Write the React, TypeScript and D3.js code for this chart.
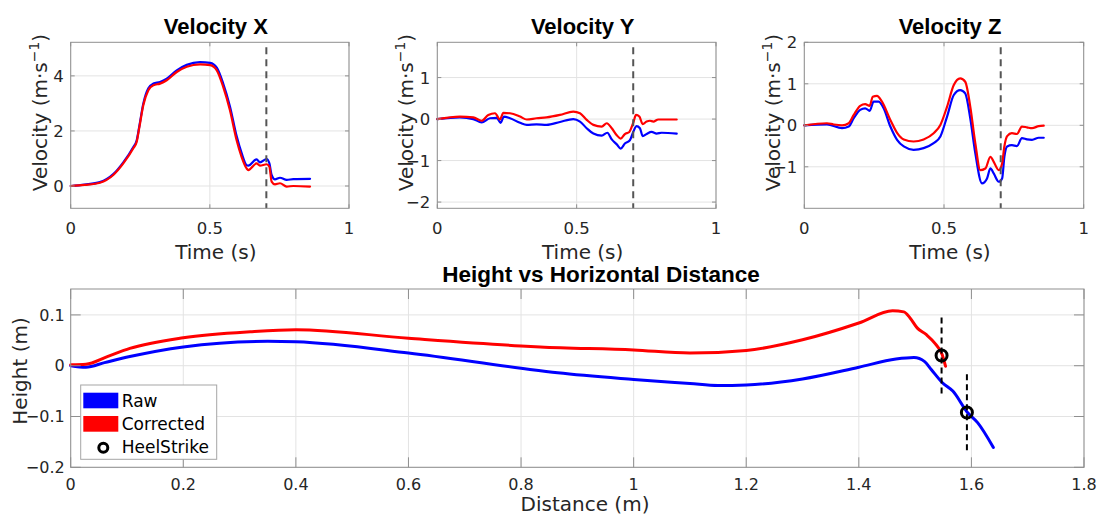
import React from 'react';
import * as d3 from 'd3';

// ---------- DATA ----------
const velXTimeRaw = [0, 0.05, 0.105, 0.153, 0.189, 0.225, 0.237, 0.247, 0.261, 0.279, 0.297, 0.321, 0.345, 0.381, 0.417, 0.465, 0.501, 0.525, 0.548, 0.572, 0.596, 0.614, 0.632, 0.638, 0.668, 0.68, 0.704, 0.714, 0.722, 0.734, 0.752, 0.776, 0.8, 0.86];
const velXRaw = [0, 0.05, 0.14, 0.43, 0.86, 1.42, 1.65, 2.2, 3.0, 3.55, 3.72, 3.78, 3.9, 4.2, 4.4, 4.5, 4.47, 4.3, 3.72, 2.9, 1.82, 1.2, 0.76, 0.74, 0.97, 0.86, 0.98, 0.82, 0.4, 0.24, 0.3, 0.22, 0.25, 0.26];
const velXTimeCorr = [0, 0.05, 0.105, 0.153, 0.189, 0.225, 0.237, 0.247, 0.261, 0.279, 0.297, 0.321, 0.345, 0.381, 0.417, 0.465, 0.501, 0.525, 0.548, 0.572, 0.596, 0.614, 0.632, 0.638, 0.668, 0.68, 0.704, 0.714, 0.722, 0.734, 0.752, 0.776, 0.8, 0.86];
const velXCorr = [0, 0.04, 0.12, 0.4, 0.82, 1.37, 1.6, 2.15, 2.94, 3.48, 3.66, 3.72, 3.84, 4.14, 4.33, 4.42, 4.39, 4.2, 3.6, 2.76, 1.67, 1.06, 0.64, 0.58, 0.82, 0.74, 0.79, 0.7, 0.16, 0.06, 0.1, -0.02, 0.0, -0.02];

const velYTimeRaw = [0, 0.081, 0.129, 0.159, 0.189, 0.213, 0.227, 0.239, 0.261, 0.297, 0.321, 0.356, 0.392, 0.44, 0.488, 0.512, 0.536, 0.56, 0.59, 0.61, 0.626, 0.644, 0.658, 0.673, 0.691, 0.703, 0.715, 0.727, 0.737, 0.751, 0.769, 0.787, 0.805, 0.859];
const velYRaw = [0, 0.04, 0, -0.08, 0.02, 0.03, -0.09, 0.06, 0.02, -0.09, -0.14, -0.13, -0.14, -0.07, 0, -0.06, -0.22, -0.35, -0.4, -0.33, -0.49, -0.61, -0.71, -0.59, -0.51, -0.31, -0.17, -0.22, -0.41, -0.36, -0.31, -0.35, -0.33, -0.35];
const velYTimeCorr = [0, 0.081, 0.129, 0.159, 0.183, 0.207, 0.225, 0.237, 0.261, 0.297, 0.321, 0.356, 0.392, 0.44, 0.488, 0.512, 0.536, 0.56, 0.59, 0.608, 0.626, 0.644, 0.658, 0.673, 0.689, 0.703, 0.713, 0.725, 0.737, 0.751, 0.763, 0.775, 0.793, 0.859];
const velYCorr = [0, 0.06, 0.04, -0.04, 0.1, 0.14, -0.01, 0.15, 0.14, 0.06, -0.01, 0.02, 0.04, 0.1, 0.18, 0.14, -0.02, -0.14, -0.18, -0.1, -0.22, -0.39, -0.47, -0.36, -0.31, -0.09, 0.1, 0.06, -0.12, -0.06, -0.04, -0.06, -0.01, -0.01];

const velZTimeRaw = [0, 0.081, 0.135, 0.159, 0.177, 0.2, 0.218, 0.234, 0.248, 0.266, 0.284, 0.308, 0.332, 0.356, 0.391, 0.427, 0.463, 0.487, 0.511, 0.535, 0.558, 0.576, 0.594, 0.612, 0.636, 0.654, 0.666, 0.678, 0.696, 0.708, 0.716, 0.726, 0.743, 0.761, 0.779, 0.797, 0.815, 0.839, 0.857];
const velZRaw = [0, 0.02, -0.07, -0.03, 0.17, 0.37, 0.41, 0.35, 0.57, 0.57, 0.41, -0.03, -0.35, -0.51, -0.59, -0.55, -0.43, -0.27, 0.21, 0.73, 0.85, 0.77, 0.17, -0.67, -1.4, -1.28, -1.04, -1.16, -1.36, -1.28, -0.76, -0.51, -0.48, -0.5, -0.31, -0.34, -0.35, -0.3, -0.3];
const velZTimeCorr = [0, 0.081, 0.105, 0.135, 0.159, 0.177, 0.2, 0.218, 0.234, 0.245, 0.26, 0.278, 0.308, 0.332, 0.356, 0.391, 0.427, 0.463, 0.487, 0.511, 0.535, 0.558, 0.576, 0.594, 0.612, 0.63, 0.648, 0.666, 0.678, 0.696, 0.708, 0.716, 0.726, 0.743, 0.761, 0.779, 0.797, 0.815, 0.839, 0.857];
const velZCorr = [0, 0.05, 0.02, 0, 0.05, 0.25, 0.47, 0.51, 0.47, 0.69, 0.71, 0.57, 0.13, -0.18, -0.34, -0.39, -0.34, -0.19, 0.01, 0.45, 0.97, 1.13, 1.05, 0.45, -0.43, -1.08, -1.04, -0.76, -0.88, -1.08, -0.92, -0.51, -0.26, -0.19, -0.21, -0.03, -0.05, -0.07, -0.02, -0.01];

const heelStrikeTime = 0.703;

const distRaw = [0, 0.027, 0.06, 0.105, 0.2, 0.35, 0.4, 0.6, 0.8, 0.865, 1.0, 1.1, 1.15, 1.2, 1.3, 1.4, 1.466, 1.498, 1.517, 1.529, 1.548, 1.567, 1.593, 1.611, 1.639];
const heightRaw = [0, -0.003, 0.006, 0.018, 0.037, 0.048, 0.047, 0.025, -0.005, -0.014, -0.027, -0.035, -0.039, -0.038, -0.026, -0.003, 0.013, 0.016, 0.008, -0.008, -0.033, -0.05, -0.092, -0.112, -0.161];
const distCorr = [0, 0.027, 0.065, 0.105, 0.2, 0.319, 0.4, 0.6, 0.8, 0.834, 1.0, 1.1, 1.2, 1.3, 1.4, 1.46, 1.48, 1.491, 1.504, 1.52, 1.536, 1.548, 1.554];
const heightCorr = [0.002, 0.003, 0.018, 0.034, 0.055, 0.067, 0.071, 0.054, 0.039, 0.037, 0.031, 0.025, 0.03, 0.051, 0.084, 0.108, 0.106, 0.094, 0.074, 0.061, 0.043, 0.022, -0.001];

const heelStrikeDist = [1.592, 1.547];
const heelStrikeHeight = [-0.092, 0.02];

const topTitles = ['Velocity X', 'Velocity Y', 'Velocity Z'];
const timeTicks = [0, 0.5, 1];
const velXTicks = [0, 2, 4];
const velYTicks = [-2, -1, 0, 1];
const velZTicks = [-1, 0, 1, 2];
const distTicks = [0, 0.2, 0.4, 0.6, 0.8, 1, 1.2, 1.4, 1.6, 1.8];
const heightTicks = [-0.2, -0.1, 0, 0.1];
const legendLabels = ['Raw', 'Corrected', 'HeelStrike'];

// ---------- STYLE ----------
const FONT = "'DejaVu Sans', Verdana, sans-serif";
const TFONT = "'Liberation Sans', Arial, sans-serif";
const TXT = '#262626';
const BOX = '#8f8f8f';
const GRID = '#e3e3e3';
const BLUE = '#0000ff';
const RED = '#ff0000';

const fmt = (v: number) => {
  if (Math.abs(v) < 1e-9) return '0';
  const s = String(+v.toFixed(2));
  return s.replace('-', '\u2212');
};

type Series = { xs: number[]; ys: number[]; color: string };

function Axes(props: {
  left: number; right: number; top: number; bottom: number;
  xDomain: [number, number]; yDomain: [number, number];
  xTicks: number[]; yTicks: number[]; tickLen: number;
  series: Series[]; lineWidth: number; tickFont: number;
  xTickBase: number; yTickGap: number;
  children?: (x: d3.ScaleLinear<number, number>, y: d3.ScaleLinear<number, number>) => React.ReactNode;
}) {
  const { left, right, top, bottom, xDomain, yDomain, xTicks, yTicks, tickLen, series, lineWidth } = props;
  const x = d3.scaleLinear().domain(xDomain).range([left, right]);
  const y = d3.scaleLinear().domain(yDomain).range([bottom, top]);
  const line = d3.line<[number, number]>().x(d => x(d[0])).y(d => y(d[1])).curve(d3.curveMonotoneX);
  return (
    <g>
      <rect x={left} y={top} width={right - left} height={bottom - top} fill="#fff" />
      {xTicks.map((t, i) => (
        <line key={'gx' + i} x1={x(t)} x2={x(t)} y1={top} y2={bottom} stroke={GRID} strokeWidth={1} />
      ))}
      {yTicks.map((t, i) => (
        <line key={'gy' + i} x1={left} x2={right} y1={y(t)} y2={y(t)} stroke={GRID} strokeWidth={1} />
      ))}
      {series.map((s, i) => (
        <path key={'s' + i} d={line(s.xs.map((v, j) => [v, s.ys[j]] as [number, number])) || ''}
          fill="none" stroke={s.color} strokeWidth={lineWidth} strokeLinejoin="round" strokeLinecap="round" />
      ))}
      {props.children ? props.children(x, y) : null}
      <rect x={left} y={top} width={right - left} height={bottom - top} fill="none" stroke={BOX} strokeWidth={1} />
      {xTicks.map((t, i) => (
        <g key={'tx' + i}>
          <line x1={x(t)} x2={x(t)} y1={bottom} y2={bottom - tickLen} stroke={BOX} />
          <line x1={x(t)} x2={x(t)} y1={top} y2={top + tickLen} stroke={BOX} />
          <text x={x(t)} y={props.xTickBase} textAnchor="middle" fontFamily={FONT} fontSize={props.tickFont} fill={TXT}>{fmt(t)}</text>
        </g>
      ))}
      {yTicks.map((t, i) => (
        <g key={'ty' + i}>
          <line x1={left} x2={left + tickLen} y1={y(t)} y2={y(t)} stroke={BOX} />
          <line x1={right} x2={right - tickLen} y1={y(t)} y2={y(t)} stroke={BOX} />
          <text x={left - props.yTickGap} y={y(t)} dy="0.36em" textAnchor="end" fontFamily={FONT} fontSize={props.tickFont} fill={TXT}>{fmt(t)}</text>
        </g>
      ))}
    </g>
  );
}

const topPanels = [
  { left: 70.7, right: 349, yDomain: [-0.81, 5.22] as [number, number], yTicks: velXTicks,
    raw: [velXTimeRaw, velXRaw], corr: [velXTimeCorr, velXCorr] },
  { left: 437.3, right: 716, yDomain: [-2.15, 1.85] as [number, number], yTicks: velYTicks,
    raw: [velYTimeRaw, velYRaw], corr: [velYTimeCorr, velYCorr] },
  { left: 804.3, right: 1083.7, yDomain: [-2, 2] as [number, number], yTicks: velZTicks,
    raw: [velZTimeRaw, velZRaw], corr: [velZTimeCorr, velZCorr] },
];

export default function App() {
  const TOP = 42.3, BOT = 208.3;
  const BL = 70.7, BR = 1084, BT = 289, BB = 467.3;
  return (
    <svg width={1097} height={519} style={{ position: 'absolute', left: 0, top: 0, background: '#fff' }}>
      <rect x={0} y={0} width={1097} height={519} fill="#fff" />
      {topPanels.map((p, k) => (
        <g key={'p' + k}>
          <Axes left={p.left} right={p.right} top={TOP} bottom={BOT}
            xDomain={[0, 1]} yDomain={p.yDomain} xTicks={timeTicks} yTicks={p.yTicks} tickLen={4}
            lineWidth={2.2} tickFont={16.5} xTickBase={233.5} yTickGap={7}
            series={[
              { xs: p.raw[0], ys: p.raw[1], color: BLUE },
              { xs: p.corr[0], ys: p.corr[1], color: RED },
            ]}>
            {(x, y) => (
              <line x1={x(heelStrikeTime)} x2={x(heelStrikeTime)} y1={TOP + 5} y2={BOT}
                stroke="#555" strokeWidth={2} strokeDasharray="7,5" />
            )}
          </Axes>
          <text x={(p.left + p.right) / 2 + 6} y={33.5} textAnchor="middle" fontFamily={TFONT}
            fontWeight="bold" fontSize={22} fill="#000">{topTitles[k]}</text>
          <text x={(p.left + p.right) / 2 + 6} y={258.5} textAnchor="middle" fontFamily={FONT}
            fontSize={20} fill={TXT}>Time (s)</text>
          <text transform={`translate(${p.left - 24},112.5) rotate(-90)`} textAnchor="middle"
            fontFamily={FONT} fontSize={20} fill={TXT}>
            Velocity (m·s<tspan dy={-8} fontSize={14}>−1</tspan><tspan dy={8}>)</tspan>
          </text>
        </g>
      ))}

      <Axes left={BL} right={BR} top={BT} bottom={BB}
        xDomain={[0, 1.8]} yDomain={[-0.2, 0.151]} xTicks={distTicks} yTicks={heightTicks} tickLen={10}
        lineWidth={3} tickFont={16} xTickBase={490} yTickGap={6}
        series={[
          { xs: distRaw, ys: heightRaw, color: BLUE },
          { xs: distCorr, ys: heightCorr, color: RED },
        ]}>
        {(x, y) => (
          <g>
            {heelStrikeDist.map((d, i) => (
              <line key={'hd' + i} x1={x(d)} x2={x(d)} y1={y(heelStrikeHeight[i] + 0.075)} y2={y(heelStrikeHeight[i] - 0.075)}
                stroke="#000" strokeWidth={2} strokeDasharray="6,4" />
            ))}
            {heelStrikeDist.map((d, i) => (
              <circle key={'hc' + i} cx={x(d)} cy={y(heelStrikeHeight[i])} r={5.5} fill="none" stroke="#000" strokeWidth={3} />
            ))}
          </g>
        )}
      </Axes>
      <text x={601} y={282} textAnchor="middle" fontFamily={TFONT} fontWeight="bold" fontSize={22.5} fill="#000">
        Height vs Horizontal Distance
      </text>
      <text x={585} y={511} textAnchor="middle" fontFamily={FONT} fontSize={20} fill={TXT}>Distance (m)</text>
      <text transform="translate(27,371) rotate(-90)" textAnchor="middle" fontFamily={FONT} fontSize={20} fill={TXT}>Height (m)</text>

      {/* legend */}
      <g>
        <rect x={80.7} y={385} width={136} height={74.3} fill="#fff" stroke="#a6a6a6" strokeWidth={1} />
        <rect x={83.3} y={392.7} width={35} height={15.6} fill={BLUE} />
        <text x={121.7} y={407.3} fontFamily={FONT} fontSize={17} fill="#000">{legendLabels[0]}</text>
        <rect x={83.3} y={416} width={35} height={15.7} fill={RED} />
        <text x={121.7} y={430} fontFamily={FONT} fontSize={17} fill="#000">{legendLabels[1]}</text>
        <circle cx={103.3} cy={447.7} r={4.5} fill="none" stroke="#000" strokeWidth={3} />
        <text x={121.7} y={452.7} fontFamily={FONT} fontSize={17} fill="#000">{legendLabels[2]}</text>
      </g>
    </svg>
  );
}
